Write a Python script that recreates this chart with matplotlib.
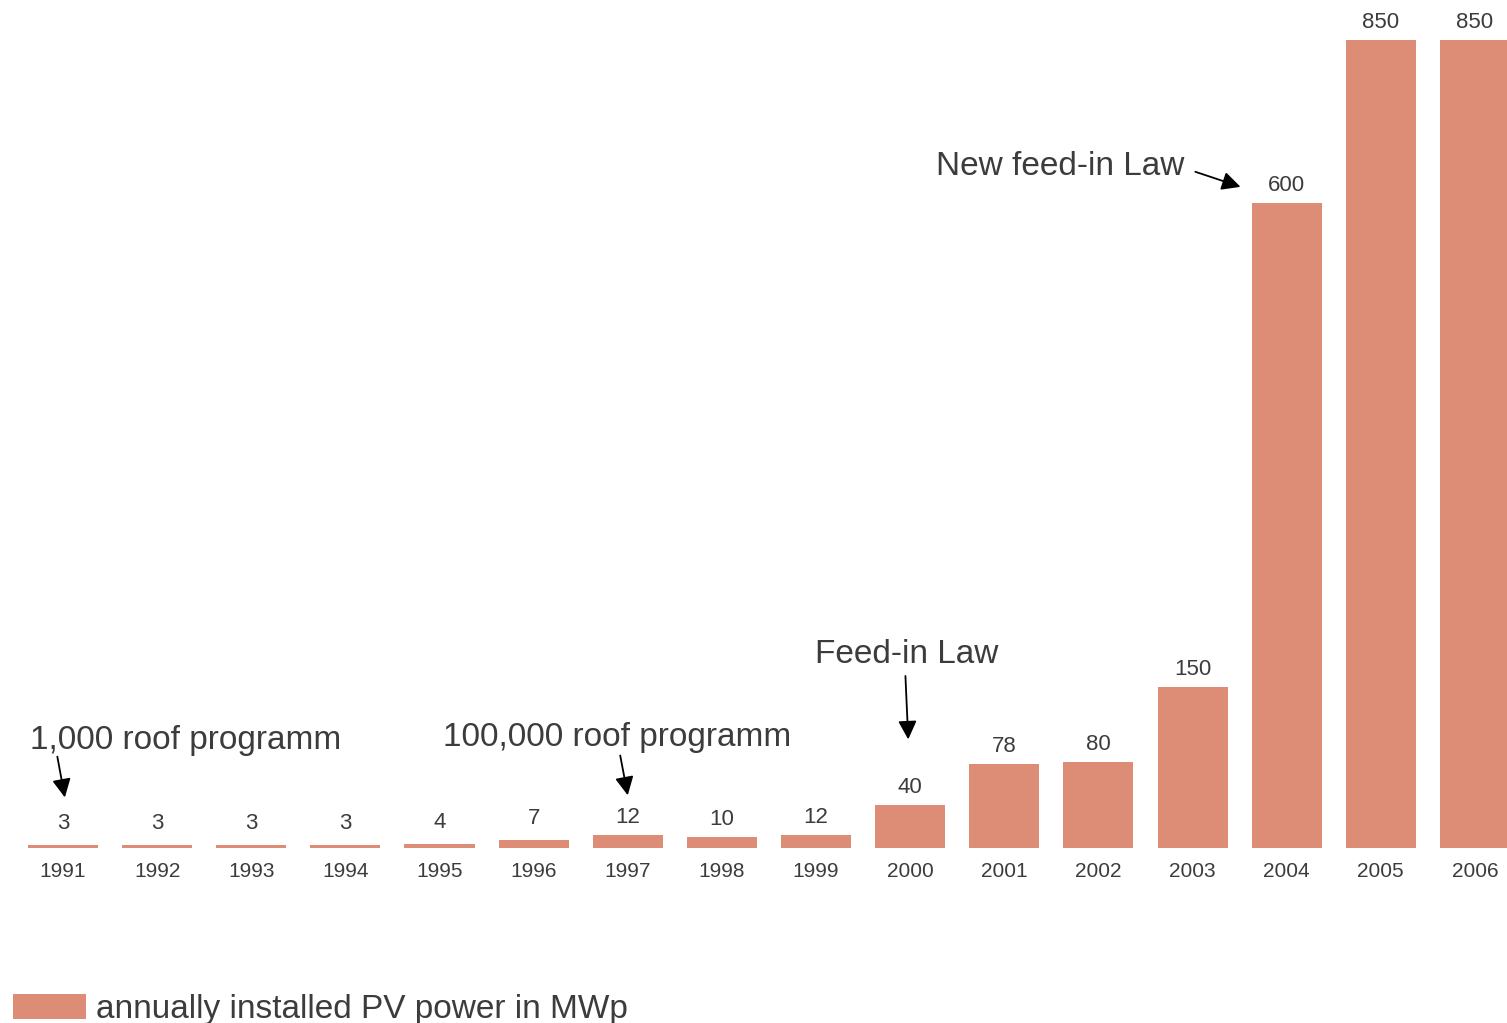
import matplotlib
matplotlib.use("Agg")
from matplotlib import pyplot as plt

# annually installed PV power in Germany (MWp)
years = [1991, 1992, 1993, 1994, 1995, 1996, 1997, 1998,
         1999, 2000, 2001, 2002, 2003, 2004, 2005, 2006]
installed = [3, 3, 3, 3, 4, 7, 12, 10, 12, 40, 78, 80, 150, 600, 850, 850]

# policy milestones: (text, text x, text y, arrow tail, arrow tip)
milestones = [
    ("1,000 roof programm", 1990.65, 100, (1990.94, 85), (1991.02, 47)),
    ("100,000 roof programm", 1995.04, 103, (1996.92, 86), (1997.0, 49)),
    ("Feed-in Law", 1998.99, 180, (1999.95, 160), (1999.98, 101)),
    ("New feed-in Law", 2000.27, 634, (2003.03, 629), (2003.51, 615)),
]

bar_color = "#DD8C76"
text_color = "#3c3c3c"
plt.rcParams["font.family"] = ["Liberation Sans", "DejaVu Sans"]

fig = plt.figure(figsize=(15.07, 10.23), dpi=100)
ax = fig.add_axes([0, 0.1711, 1, 0.7898])

bars = ax.bar(years, installed, width=0.744, color=bar_color,
              label="annually installed PV power in MWp")
ax.set_xlim(1990.331, 2006.341)
ax.set_ylim(0, 751.6)

# value labels (tall bars get cut at the top of the plot like the original)
top = ax.get_ylim()[1]
for yr, v in zip(years, installed):
    off = 8 if v < 10 else 5
    ax.annotate(str(v), (yr, min(v, top)), xytext=(0, off),
                textcoords="offset points", ha="center", va="bottom",
                fontsize=16, color=text_color, annotation_clip=False)

for label, tx, ty, tail, tip in milestones:
    ax.text(tx, ty, label, fontsize=24, color=text_color,
            ha="left", va="center", clip_on=False)
    ax.annotate("", xy=tip, xytext=tail,
                arrowprops=dict(arrowstyle="-|>", color="black", lw=1.3,
                                mutation_scale=28, shrinkA=0, shrinkB=0),
                annotation_clip=False)

ax.set_xticks(years)
ax.set_xticklabels([str(y) for y in years], fontsize=15, color=text_color)
ax.tick_params(axis="x", length=0, pad=10)
ax.set_yticks([])
for s in ax.spines.values():
    s.set_visible(False)

fig.legend(handles=[bars], loc="lower left", bbox_to_anchor=(0.002, -0.012),
           frameon=False, fontsize=24, handlelength=2.2, handleheight=0.8,
           handletextpad=0.3, borderaxespad=0, borderpad=0.3,
           labelcolor=text_color)

fig.savefig("out.png", dpi=100)
